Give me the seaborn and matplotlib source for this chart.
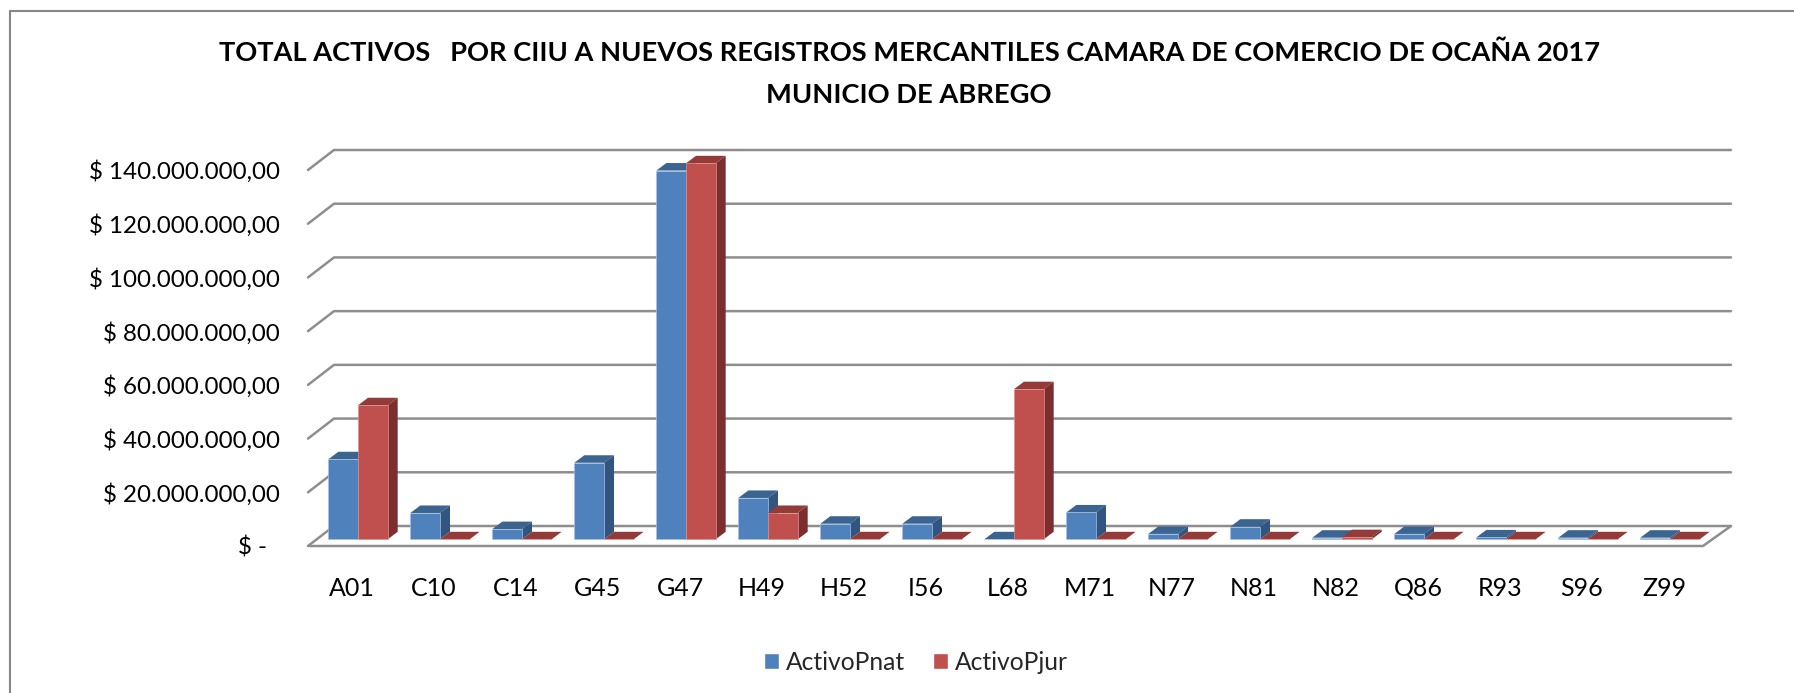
import numpy as np
import pandas as pd
import seaborn as sns
import matplotlib.pyplot as plt
from matplotlib.patches import Polygon

categories = ["A01", "C10", "C14", "G45", "G47", "H49", "H52", "I56", "L68",
              "M71", "N77", "N81", "N82", "Q86", "R93", "S96", "Z99"]
activo_pnat = [29.8, 9.8, 3.8, 28.5, 137.3, 15.4, 5.8, 5.8, 0.0,
               10.0, 2.0, 4.7, 0.6, 2.0, 0.7, 0.6, 0.6]
activo_pjur = [49.9, 0.0, 0.0, 0.0, 140.0, 9.8, 0.0, 0.0, 55.9,
               0.0, 0.0, 0.0, 0.8, 0.0, 0.0, 0.0, 0.0]
y_ticks = [0, 20, 40, 60, 80, 100, 120, 140]
y_labels = ["$ -  ", "$ 20.000.000,00", "$ 40.000.000,00", "$ 60.000.000,00",
            "$ 80.000.000,00", "$ 100.000.000,00", "$ 120.000.000,00", "$ 140.000.000,00"]

W, H = 1794, 693
BLUE, BLUE_TOP, BLUE_SIDE = "#4F81BD", "#3B6491", "#32557F"
RED, RED_TOP, RED_SIDE = "#C0504D", "#943A38", "#7A2F2E"
BLUE_EDGE, RED_EDGE = "#A6C0E0", "#DE8F8C"
GRID = "#8E8E8E"

sns.set_theme(style="white")
plt.rcParams["font.family"] = ["Lato", "DejaVu Sans"]
plt.rcParams["text.parse_math"] = False

df = pd.DataFrame({"ciiu": categories, "ActivoPnat": activo_pnat, "ActivoPjur": activo_pjur})
df = df.melt(id_vars="ciiu", var_name="serie", value_name="valor")

fig = plt.figure(figsize=(W / 100, H / 100), dpi=100)
# axes box: category slots 82 px wide, value 0 at the bar base (539.3), 53.7 px per 20M
left, right = 317, 1711
base, top, bottom = 539.3, 163.3, 555
ax = fig.add_axes([left / W, 1 - bottom / H, (right - left) / W, (bottom - top) / H])

sns.barplot(data=df, x="ciiu", y="valor", hue="serie", order=categories,
            hue_order=["ActivoPnat", "ActivoPjur"],
            palette=[BLUE, RED], width=0.724, gap=0, saturation=1, ax=ax, legend=False)
ax.set_xlabel("")
ax.set_ylabel("")
sns.despine(ax=ax, left=True, bottom=True)

x_px = (right - left) / 17
y_px = (base - top) / 140
dx = lambda px: px / x_px
dy = lambda px: px / y_px

# floor and walls, pixel offsets of the fake 3D box
front = -dy(6.7)
back = dy(13.3)
x0 = -0.5 - dx(9)
x1 = 16.5 - dx(8)
depth = dx(28)
for t in y_ticks:
    ax.plot([x0, x0 + dx(26), x1 + depth], [t + front, t + back, t + back],
            color=GRID, lw=1.8, zorder=1, clip_on=False, solid_capstyle="round")
ax.plot([x0, x1, x1 + depth], [front, front, back], color=GRID, lw=1.8, zorder=1,
        clip_on=False)

# top and side faces for each bar
bars = [p for p in ax.patches]
n = len(categories)
for i in range(n):
    for j, (p, c_top, c_side, c_edge) in enumerate([(bars[i], BLUE_TOP, BLUE_SIDE, BLUE_EDGE),
                                                    (bars[i + n], RED_TOP, RED_SIDE, RED_EDGE)]):
        z = 3 + i * 3 + j * 3
        bx, bw, bh = p.get_x(), p.get_width(), p.get_height()
        ox, oy = dx(10), dy(7.5)
        ax.add_patch(Polygon([(bx, bh), (bx + bw, bh), (bx + bw + ox, bh + oy), (bx + ox, bh + oy)],
                             closed=True, fc=c_top, ec="none", zorder=z, clip_on=False))
        if bh > 0:
            ax.add_patch(Polygon([(bx + bw, 0), (bx + bw + ox, oy), (bx + bw + ox, bh + oy), (bx + bw, bh)],
                                 closed=True, fc=c_side, ec="none", zorder=z, clip_on=False))
        p.set_zorder(z + 1)
        p.set_clip_on(False)
        p.set_edgecolor(c_edge)
        p.set_linewidth(0.5)

ax.set_yticks([t + front for t in y_ticks])
ax.set_yticklabels(y_labels, fontsize=17.4, color="black")
ax.tick_params(axis="y", length=0, pad=27)
ax.set_xticks([i - dx(6) for i in range(n)])
ax.set_xticklabels(categories, fontsize=18, color="black")
ax.tick_params(axis="x", length=0, pad=15.7)
# set_yticks widens the view, so the limits go last
ax.set_xlim(-0.5, 16.5)
ax.set_ylim(-dy(bottom - base), 140)

fig.text(909 / W, 1 - 53 / H, "TOTAL ACTIVOS   POR CIIU A NUEVOS REGISTROS MERCANTILES CAMARA DE COMERCIO DE OCAÑA 2017",
         ha="center", va="center", fontsize=19.65, fontweight="bold", color="black")
fig.text(909 / W, 1 - 95 / H, "MUNICIO DE ABREGO",
         ha="center", va="center", fontsize=19.65, fontweight="bold", color="black")

handles = [plt.Rectangle((0, 0), 1, 1, fc=BLUE), plt.Rectangle((0, 0), 1, 1, fc=RED)]
fig.legend(handles, ["ActivoPnat", "ActivoPjur"], loc="center", bbox_to_anchor=(916 / W, 1 - 662 / H),
           ncol=2, frameon=False, fontsize=17.7, handlelength=0.61, handleheight=0.61,
           handletextpad=0.27, columnspacing=1.13)

# outer chart frame
fig.add_artist(plt.Line2D([10 / W, 10 / W, 1], [0, 1 - 11 / H, 1 - 11 / H], color="#868686", lw=1.5))

fig.savefig("out.png", dpi=100)
